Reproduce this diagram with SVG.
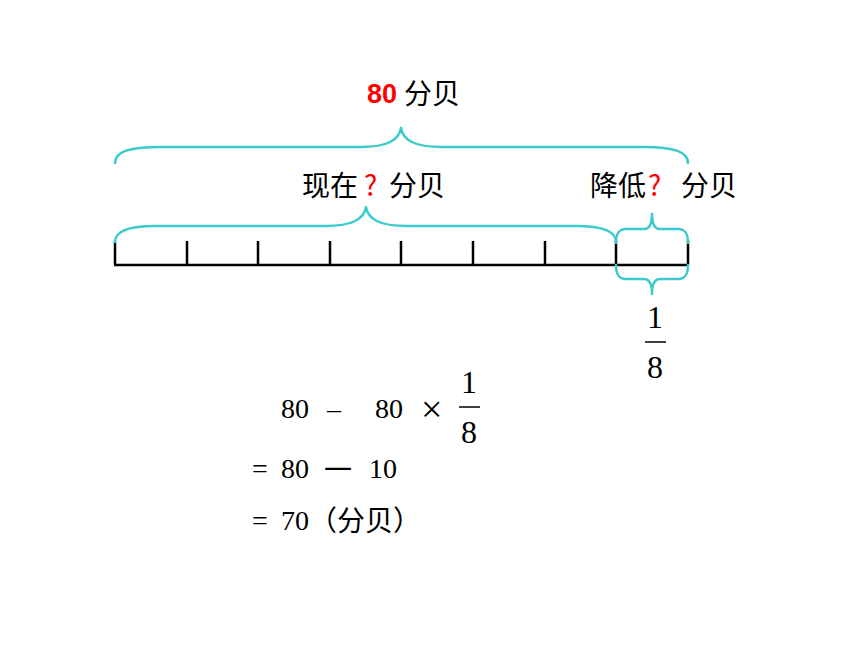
<svg xmlns="http://www.w3.org/2000/svg" width="860" height="645" viewBox="0 0 860 645">
<style>
.brace{fill:none;stroke:#3CCBCC;stroke-width:2.5;stroke-linecap:round;stroke-linejoin:round}
.axis{stroke:#000;stroke-width:2.5;fill:none}
.cjk{font-family:"Noto Sans CJK SC","Noto Sans",sans-serif;font-size:28px;fill:#000}
.serif{font-family:"Liberation Serif","Times New Roman",serif;font-size:28px;fill:#000}
.big{font-size:32px}
.times{font-size:38px}
.red{fill:#FF0000}
.frac{stroke:#000;stroke-width:1.5}
</style>
<rect width="860" height="645" fill="#fff"/>
<g id="number-line">
<line class="axis" x1="114" y1="265" x2="689" y2="265"/>
<path class="axis" d="M115,241V265M187,241V265M258,241V265M330,241V265M401,241V265M473,241V265M545,241V265M616,241V265M688,241V265"/>
</g>
<g id="connectors">
<path id="brace-total" class="brace" d="M115,163 C115,152 128,147 160,147 L360,147 C388,147 399,140 401,128 C403,140 414,147 442,147 L643,147 C675,147 688,152 688,163"/>
<path id="brace-now" class="brace" d="M115,242 C115,232 126,226 155,226 L325,226 C353,226 364,219 366,207 C368,219 379,226 407,226 L576,226 C605,226 616,232 616,242"/>
<path id="brace-reduce" class="brace" d="M616,243 C616,233 619,229 626,229 L644,229 C650,229 652,224 652,214 C652,224 654,229 660,229 L678,229 C685,229 688,233 688,243"/>
<path id="brace-eighth" class="brace" d="M616,265 C616,275 619,279 626,279 L644,279 C650,279 652,284 652,294 C652,284 654,279 660,279 L678,279 C685,279 688,275 688,265"/>
</g>
<g id="label-total">
<text x="367" y="103" font-family="'Liberation Sans',Arial,sans-serif" font-weight="bold" font-size="27" fill="#FF0000">80</text>
<text class="cjk" x="404" y="104">分贝</text>
</g>
<g id="label-now">
<text class="cjk" x="302" y="196">现在</text>
<text class="cjk red" x="364" y="196">?</text>
<text class="cjk" x="389" y="196">分贝</text>
</g>
<g id="label-reduce">
<text class="cjk" x="590" y="196">降低</text>
<text class="cjk red" x="648" y="196">?</text>
<text class="cjk" x="681" y="196">分贝</text>
</g>
<g id="label-fraction">
<text class="serif big" x="655" y="328" text-anchor="middle">1</text>
<line class="frac" x1="645" y1="342" x2="666" y2="342"/>
<text class="serif big" x="655" y="378" text-anchor="middle">8</text>
</g>
<g id="equation">
<text class="serif" x="281" y="418">80</text>
<text class="serif" x="327" y="418">–</text>
<text class="serif" x="375" y="418">80</text>
<text class="serif times" x="421" y="422">×</text>
<text class="serif big" x="469" y="393" text-anchor="middle">1</text>
<line class="frac" x1="459" y1="407" x2="480" y2="407"/>
<text class="serif big" x="469" y="443" text-anchor="middle">8</text>
<text class="serif" x="252" y="478">=</text>
<text class="serif" x="281" y="478">80</text>
<text class="cjk" x="324" y="480">一</text>
<text class="serif" x="369" y="478">10</text>
<text class="serif" x="252" y="530">=</text>
<text class="serif" x="281" y="530">70</text>
<text class="cjk" x="309" y="531">（分贝）</text>
</g>
</svg>
